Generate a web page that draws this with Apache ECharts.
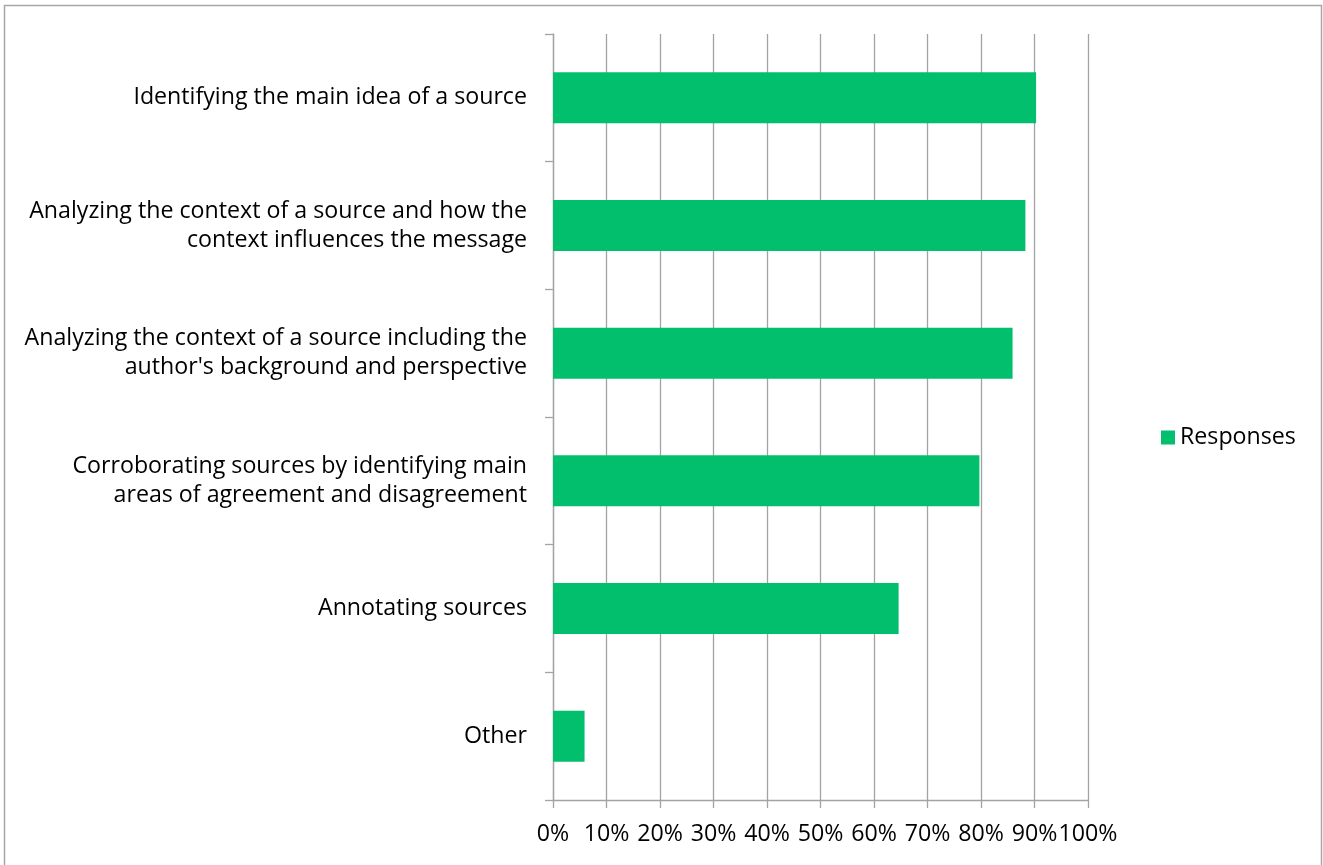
<!DOCTYPE html>
<html>
<head>
<meta charset="utf-8">
<script src="https://cdn.jsdelivr.net/npm/echarts@6/dist/echarts.min.js"></script>
<style>
  html, body { margin: 0; padding: 0; background: #fff; }
  #chart { width: 1323px; height: 865px; }
</style>
</head>
<body>
<div id="chart"></div>
<script>
// Skills taught, share of responses
const categories = [
  'Identifying the main idea of a source',
  'Analyzing the context of a source and how the\ncontext influences the message',
  "Analyzing the context of a source including the\nauthor's background and perspective",
  'Corroborating sources by identifying main\nareas of agreement and disagreement',
  'Annotating sources',
  'Other'
];
const responses = [0.903, 0.883, 0.859, 0.797, 0.646, 0.059];
const seriesName = 'Responses';

const FONT = '"Open Sans", "Noto Sans", sans-serif';
const FONT_SIZE = 23.2;
const GRID_GREY = '#a3a3a3';
const GREEN = '#02BF6E';

const chart = echarts.init(document.getElementById('chart'), null, { renderer: 'canvas' });
chart.setOption({
  animation: false,
  backgroundColor: '#fff',
  graphic: [{
    type: 'rect',
    shape: { x: 4.5, y: 5.5, width: 1317, height: 870 },
    style: { fill: null, stroke: '#a6a6a6', lineWidth: 1.5 },
    silent: true
  }],
  grid: { left: 553, right: 235, top: 34, bottom: 65, containLabel: false },
  legend: {
    data: [seriesName],
    left: 1156,
    top: 421,
    icon: 'rect',
    itemWidth: 14,
    itemHeight: 14,
    itemGap: 8,
    textStyle: { fontFamily: FONT, fontSize: FONT_SIZE, color: '#000' }
  },
  xAxis: {
    type: 'value',
    min: 0,
    max: 1,
    interval: 0.1,
    axisLine: { show: true, lineStyle: { color: GRID_GREY, width: 1.3 } },
    axisTick: { show: true, length: 8, lineStyle: { color: GRID_GREY, width: 1.3 } },
    splitLine: { show: true, lineStyle: { color: GRID_GREY, width: 1.3 } },
    axisLabel: {
      margin: 23,
      fontFamily: FONT,
      fontSize: FONT_SIZE,
      color: '#000',
      formatter: v => Math.round(v * 100) + '%'
    }
  },
  yAxis: {
    type: 'category',
    data: categories,
    inverse: true,
    axisLine: { show: true, onZero: false, lineStyle: { color: GRID_GREY, width: 1.3 } },
    axisTick: { show: true, length: 8, alignWithLabel: false, lineStyle: { color: GRID_GREY, width: 1.3 } },
    splitLine: { show: false },
    axisLabel: {
      margin: 26,
      fontFamily: FONT,
      fontSize: FONT_SIZE,
      color: '#000',
      align: 'right',
      lineHeight: 29,
      padding: [5, 0, 0, 0]
    }
  },
  series: [{
    name: seriesName,
    type: 'bar',
    data: responses,
    barCategoryGap: '60%',
    itemStyle: { color: GREEN }
  }]
});
</script>
</body>
</html>
